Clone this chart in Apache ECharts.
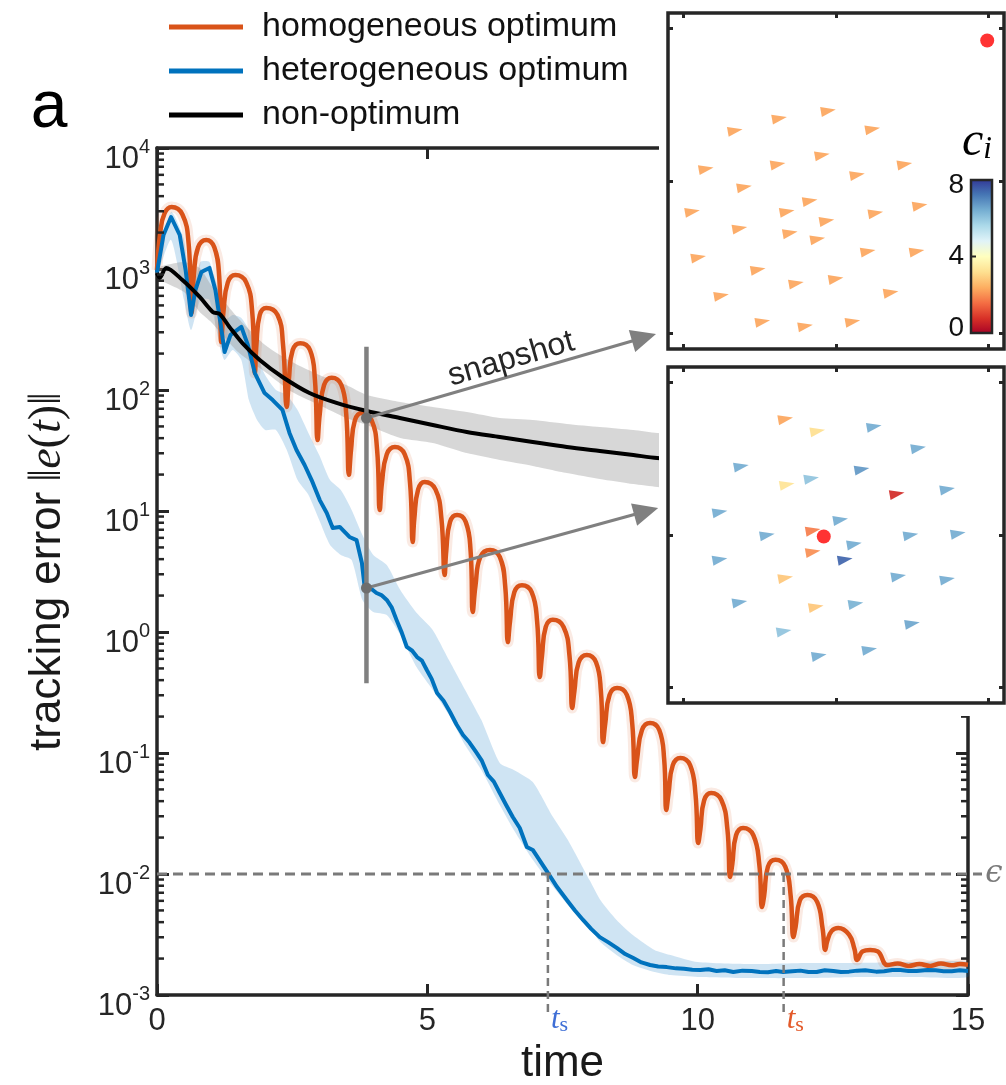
<!DOCTYPE html>
<html><head><meta charset="utf-8">
<script src="https://cdn.jsdelivr.net/npm/echarts@6/dist/echarts.min.js"></script>
<style>html,body{margin:0;padding:0;background:#fff}#c{width:1006px;height:1085px}</style>
</head><body><div id="c"></div><script>
// ---------------- DATA ----------------
const orangeT = [0,0.06,0.14,0.27,0.47,0.585,
 0.64,0.68,0.76,0.91,1.06,1.15, 1.19,1.23,1.31,1.45,1.65,1.76, 1.81,1.84,1.9,2.02,2.23,2.33,
 2.4,2.44,2.51,2.65,2.83,2.92, 2.97,3.01,3.09,3.23,3.41,3.5, 3.55,3.59,3.66,3.79,3.97,4.07,
 4.12,4.16,4.25,4.4,4.58,4.68, 4.73,4.76,4.83,4.95,5.15,5.26, 5.32,5.35,5.42,5.55,5.71,5.8,
 5.84,5.89,5.98,6.16,6.34,6.44, 6.49,6.53,6.61,6.75,6.93,7.03, 7.08,7.12,7.19,7.32,7.52,7.63,
 7.68,7.72,7.8,7.95,8.12,8.21, 8.25,8.29,8.37,8.51,8.69,8.79, 8.84,8.88,8.97,9.12,9.29,9.38,
 9.42,9.46,9.54,9.68,9.86,9.96, 10.01,10.05,10.12,10.25,10.44,10.55, 10.6,10.64,10.71,10.84,11.03,11.14,
 11.19,11.23,11.3,11.44,11.62,11.72, 11.77,11.81,11.89,12.03,12.21,12.31, 12.36,12.4,12.48,12.6,12.8,12.9,
 12.95,13.05,13.19,13.33, 13.51,13.7,13.9,14.1,14.3,14.5,14.7,14.85,15];
const orangeV = [980,2000,2880,3250,2820,1620,
 432,871,1510,1740,1510,871, 249,447,776,891,776,447, 138,240,417,476,417,240,
 72.4,123,214,244,214,123, 38.6,63.1,110,126,110,63.1, 19.9,32.4,56.2,64.6,56.2,32.4,
 10.2,17.0,29.5,33.8,29.5,17.0, 5.55,8.71,15.1,17.4,15.1,8.71, 2.96,4.68,8.13,9.27,8.13,4.68,
 1.46,2.40,4.17,4.76,4.17,2.40, 0.826,1.23,2.14,2.44,2.14,1.23, 0.425,0.631,1.10,1.26,1.10,0.631,
 0.236,0.324,0.562,0.646,0.562,0.324, 0.123,0.174,0.302,0.344,0.302,0.174, 0.0634,0.0891,0.155,0.177,0.155,0.0891,
 0.0338,0.0457,0.0794,0.0910,0.0794,0.0457, 0.0180,0.0234,0.0407,0.0467,0.0407,0.0234, 0.00944,0.0120,0.0209,0.0240,0.0209,0.0120,
 0.00533,0.00661,0.0115,0.0131,0.0115,0.00661, 0.00301,0.00363,0.00603,0.00670,0.00589,0.00355, 0.00236,0.00282,0.00339,0.00358,0.00316,0.00240,
 0.00195,0.00229,0.00236,0.00229, 0.00177,0.00182,0.00174,0.00180,0.00174,0.00182,0.00176,0.00180,0.00178];

const blueT = [0,0.12,0.26,0.42,0.53,0.63,0.71,0.82,0.97,1.08,1.18,1.25,1.36,1.56,1.68,1.81,1.99,2.14,2.32,2.45,
 2.58,2.73,2.86,3.01,3.14,3.25,3.38,3.56,3.69,3.79,3.84,3.95,4.06,4.15,4.25,4.34,4.43,4.53,4.62,4.72,4.81,4.9,4.99,5.08,5.18,5.3,5.42,5.54,5.66,5.78,
 5.9,6.01,6.12,6.23,6.34,6.46,6.58,6.71,6.84,6.95,7.09,7.23,7.4,7.58,7.73,7.88,8.03,8.19,8.35,8.51,8.66,8.81,8.96,9.12,9.27,9.43,9.6,9.75,9.9,10.05,10.2,10.35,10.5,10.66,10.83,11.0,11.15,11.3,
 11.45,11.58,11.75,11.9,12.05,12.2,12.35,12.51,12.65,12.8,12.95,13.1,13.3,13.45,13.6,13.75,13.9,14.05,14.25,14.4,14.55,14.7,14.85,15];
const blueV = [933,1910,2690,1910,977,417,670,944,1020,670,344,206,285,332,236,138,94.4,82.6,68.4,44.2,
 31.9,24.0,18.0,12.3,9.62,7.24,7.38,6.10,5.75,3.72,2.36,2.30,2.10,2.02,1.84,1.60,1.26,0.98,0.752,0.70,0.621,0.58,0.485,0.41,0.313,0.27,0.218,0.172,0.141,0.122,
 0.102,0.086,0.0658,0.058,0.0467,0.037,0.0296,0.024,0.0167,0.0158,0.0127,0.0102,0.0078,0.0061,0.0050,0.00417,0.00352,0.00301,0.00272,0.00244,0.00218,0.00202,0.00186,0.00177,0.00172,0.00170,0.00166,0.00165,0.00162,0.00161,0.00163,0.00158,0.00160,0.00155,0.00159,0.00158,0.00155,0.00154,
 0.00158,0.00155,0.00157,0.00159,0.00155,0.00155,0.00160,0.00158,0.00155,0.00156,0.00159,0.00160,0.00156,0.00157,0.00161,0.00161,0.00158,0.00158,0.00161,0.00160,0.00157,0.00157,0.00160,0.00158];

const blackT = [0,0.05,0.17,0.47,0.79,1.03,1.16,1.34,1.58,1.9,2.32,2.82,3.32,3.88,4.49,5.1,5.73,6.34,6.95,7.58,8.19,8.81,9.25,12,15];
const blackV = [927,843,1020,811,587,442,425,332,244,177,128,94.4,78.2,67.0,58.7,51.4,45.0,40.9,37.2,33.8,31.3,29.0,27.4,21.9,18.2];

const grayBandT = [0,0.5,0.79,1.0,1.5,2.0,2.5,3.0,3.5,3.88,4.5,5.1,5.73,6.34,6.95,7.58,8.19,8.81,9.25,12,15];
const grayBandHi = [1019,1143,1019,738,394,236,170,133,110,91.0,79.6,72.4,65.8,58.7,56.5,52.4,49.4,46.7,44.2,38.6,35.1];
const grayBandLo = [843,646,442,365,206,141,96.2,75.2,58.7,51.4,40.1,36.5,30.1,26.4,23.6,20.6,18.4,16.7,15.8,12.3,10.2];

const blueBandT = [0,0.26,0.5,0.63,0.8,0.97,1.18,1.25,1.4,1.56,1.7,1.85,2.0,2.2,2.4,2.6,2.8,3.0,3.2,3.4,3.6,3.8,4.0,4.25,4.5,
 4.8,5.1,5.4,5.7,6.0,6.34,6.6,6.95,7.3,7.6,8.0,8.2,8.5,8.8,9.2,9.5,10,11,12,13,14,15];
const blueBandHi = [1019,2960,1740,555,1143,1143,555,379,417,394,313,195,133,100,91.0,68.4,44.2,29.0,18.0,14.9,10.2,6.34,4.33,3.58,2.22,
 1.44,1.04,0.587,0.332,0.187,0.0826,0.0724,0.0575,0.0308,0.0191,0.00891,0.0061,0.00417,0.00313,0.00236,0.00214,0.00187,0.0018,0.00184,0.00184,0.00187,0.00187];
const blueBandLo = [891,1740,555,313,555,555,214,177,214,177,82.6,56.5,46.7,46.7,31.9,18.0,13.6,8.43,5.24,4.33,3.94,1.84,1.46,1.38,0.944,
 0.514,0.332,0.206,0.116,0.0724,0.0372,0.0231,0.0131,0.00811,0.00555,0.00358,0.00274,0.00214,0.00177,0.00155,0.00146,0.00141,0.00138,0.00138,0.00141,0.00141,0.00141];

// annotations
const epsilon = 0.01;
const tsTimes = [7.23, 11.59];           // blue, orange settling times
const tsColors = ['#3f6fd6', '#e35a2b'];
const snapT = 3.874;
const snapSpan = [0.377, 228];
const snapDots = [58.7, 2.31];
const arrowTips = [[9.23, 290], [9.27, 10.6]];
const snapLabel = [6.55, 180];

// tick labels
const xTicks = [0, 5, 10, 15];
const yMajor = [1e-3, 1e-2, 1e-1, 1, 10, 100, 1000, 10000];
const insetTicks = [-1, 0, 1];
const cbarTicks = [0, 4, 8];

// inset agents (positions in the inset frame) and their c_i
const topX = [-0.66,-0.37,-0.05,0.24,-0.85,-0.38,-0.09,0.14,0.45,-0.60,-0.17,-0.94,-0.32,-0.06,0.26,0.55,-0.63,-0.30,-0.12,-0.90,0.21,0.53,-0.51,-0.26,0.00,-0.75,0.36,-0.48,-0.20,0.11];
const topY = [0.33,0.41,0.46,0.34,0.08,0.11,0.17,0.04,0.11,-0.04,-0.13,-0.20,-0.20,-0.26,-0.21,-0.16,-0.31,-0.34,-0.38,-0.50,-0.46,-0.46,-0.58,-0.67,-0.64,-0.75,-0.73,-0.92,-0.95,-0.92];
const topC = [2.3,2.3,2.3,2.3,2.3,2.3,2.3,2.3,2.3,2.3,2.3,2.3,2.3,2.3,2.3,2.3,2.3,2.3,2.3,2.3,2.3,2.3,2.3,2.3,2.3,2.3,2.3,2.3,2.3,2.3];
const topTarget = [0.99, 0.92];
const botX = [-0.33,-0.12,0.25,0.54,-0.62,0.17,-0.32,-0.16,0.40,0.73,-0.76,0.03,-0.15,-0.45,0.49,0.80,-0.15,0.12,0.06,-0.76,-0.33,0.41,0.73,-0.63,-0.13,0.13,-0.34,0.50,-0.11,0.22];
const botY = [0.76,0.68,0.71,0.57,0.45,0.43,0.33,0.37,0.27,0.30,0.15,0.10,0.03,0.00,0.00,0.01,-0.11,-0.06,-0.16,-0.16,-0.28,-0.27,-0.29,-0.44,-0.47,-0.45,-0.63,-0.58,-0.79,-0.75];
const botC = [2.3,3.2,6.4,6.4,6.4,6.7,3.3,6.0,0.7,6.4,6.4,6.4,1.8,6.4,6.4,6.4,2.0,6.4,7.4,6.4,2.8,6.4,6.4,6.4,2.8,6.3,6.0,6.5,6.4,6.4];
const botTarget = [-0.08, -0.01];

// ---------------- STYLE ----------------
const FONT = '"Liberation Sans", Arial, Helvetica, sans-serif';
const SERIF = '"Liberation Serif", "DejaVu Serif", serif';
const AX = '#262626';
const ORANGE = '#D95319', BLUE = '#0072BD';
const RDYLBU = ['#a50026','#d73027','#f46d43','#fdae61','#fee090','#ffffbf','#e0f3f8','#abd9e9','#74add1','#4575b4','#313695'];

const zip = (a, b) => a.map((x, i) => [x, b[i]]);
const yMinor = [];
for (let e = -3; e < 4; e++) for (let k = 2; k < 10; k++) yMinor.push(k * Math.pow(10, e));

function bandSeries(T, lo, hi, color) {
  return {
    type: 'custom', xAxisIndex: 0, yAxisIndex: 0, z: 1, silent: true,
    data: T.map((t, i) => [t, lo[i], hi[i]]), encode: { x: 0, y: [1, 2] },
    renderItem(params, api) {
      if (params.dataIndex !== 0) return null;
      const pts = [];
      for (let i = 0; i < T.length; i++) pts.push(api.coord([T[i], hi[i]]));
      for (let i = T.length - 1; i >= 0; i--) pts.push(api.coord([T[i], lo[i]]));
      return { type: 'polygon', shape: { points: pts, smooth: 0.2 }, style: { fill: color } };
    }
  };
}

function renderAnno(params, api) {
  if (params.dataIndex !== 0) return null;
  const c = (x, y) => api.coord([x, y]);
  const G = '#7a7a7a', S = '#808080';
  const ch = [];
  const e0 = c(0, epsilon), e1 = c(15, epsilon);
  ch.push({ type: 'line', shape: { x1: e0[0], y1: e0[1], x2: e1[0] + 14, y2: e1[1] }, style: { stroke: G, lineWidth: 2.8, lineDash: [10, 6] } });
  const bottomY = c(0, 0.001)[1];
  tsTimes.forEach((t, i) => {
    const p = c(t, epsilon);
    ch.push({ type: 'line', shape: { x1: p[0], y1: p[1], x2: p[0], y2: bottomY + 22 }, style: { stroke: G, lineWidth: 2.5, lineDash: [8, 5] } });
    ch.push({ type: 'text', x: p[0] + 3, y: bottomY + 25, style: {
      text: '{t|t}{s|s}', align: 'left', verticalAlign: 'middle',
      rich: { t: { fontSize: 31, fontStyle: 'italic', fontFamily: SERIF, fill: tsColors[i], lineHeight: 32 },
              s: { fontSize: 22, fontFamily: SERIF, fill: tsColors[i], verticalAlign: 'bottom', lineHeight: 18 } } } });
  });
  ch.push({ type: 'text', x: e1[0] + 26, y: e1[1], style: { text: '\u03F5', fontSize: 31, fontFamily: '"DejaVu Serif", serif', fontStyle: 'italic', fill: G, align: 'center', verticalAlign: 'middle' } });
  const s0 = c(snapT, snapSpan[1]), s1 = c(snapT, snapSpan[0]);
  ch.push({ type: 'line', shape: { x1: s0[0], y1: s0[1], x2: s1[0], y2: s1[1] }, style: { stroke: S, lineWidth: 4.5 } });
  snapDots.forEach((v, i) => {
    const a = c(snapT, v), b = c(arrowTips[i][0], arrowTips[i][1]);
    const dx = b[0] - a[0], dy = b[1] - a[1], L = Math.hypot(dx, dy), ux = dx / L, uy = dy / L;
    const hl = 25, hw = 11.5, bx = b[0] - ux * hl, by = b[1] - uy * hl;
    ch.push({ type: 'line', shape: { x1: a[0], y1: a[1], x2: bx + ux * 2, y2: by + uy * 2 }, style: { stroke: S, lineWidth: 3 } });
    ch.push({ type: 'polygon', shape: { points: [[b[0], b[1]], [bx - uy * hw, by + ux * hw], [bx + uy * hw, by - ux * hw]] }, style: { fill: S } });
    ch.push({ type: 'circle', shape: { cx: a[0], cy: a[1], r: 5.5 }, style: { fill: '#6e6e6e' } });
  });
  const a0 = c(snapT, snapDots[0]), b0 = c(arrowTips[0][0], arrowTips[0][1]);
  const ang = Math.atan2(-(b0[1] - a0[1]), b0[0] - a0[0]);
  const lp = c(snapLabel[0], snapLabel[1]);
  ch.push({ type: 'text', x: lp[0], y: lp[1], rotation: ang, style: { text: 'snapshot', fontSize: 32, fontFamily: FONT, fill: AX, align: 'center', verticalAlign: 'middle' } });
  return { type: 'group', children: ch };
}

function insetAxis(gi, pos) {
  return { type: 'value', gridIndex: gi, position: pos, min: -1.1, max: 1.1, z: 11,
    axisLine: { show: false, onZero: false }, splitLine: { show: false }, axisLabel: { show: false },
    axisTick: { show: true, inside: true, length: 5, lineStyle: { color: AX, width: 3 }, customValues: insetTicks } };
}

const mainX = (pos, showLabel) => ({
  type: 'value', gridIndex: 0, position: pos, min: 0, max: 15, interval: 5,
  axisLine: { show: true, onZero: false, lineStyle: { color: AX, width: 3.5 } },
  axisTick: { show: true, inside: true, length: 11, lineStyle: { color: AX, width: 3 } },
  axisLabel: { show: showLabel, fontSize: 31, color: AX, margin: 11, fontFamily: FONT, customValues: xTicks },
  splitLine: { show: false }
});
const mainY = (pos, showLabel) => ({
  type: 'log', logBase: 10, gridIndex: 0, position: pos, min: yMajor[0], max: yMajor[yMajor.length - 1], splitNumber: 7,
  axisLine: { show: true, onZero: false, lineStyle: { color: AX, width: 3.5 } },
  axisTick: { show: true, inside: true, length: 12, lineStyle: { color: AX, width: 3 } },
  axisLabel: { show: showLabel, margin: 7, padding: [16, 0, 0, 0],
    formatter: v => { const e = Math.round(Math.log10(v)); return '{b|10}{s|' + (e < 0 ? '-' : '') + Math.abs(e) + '}'; },
    rich: { b: { fontSize: 31, fontFamily: FONT, color: AX, lineHeight: 38, verticalAlign: 'bottom' },
            s: { fontSize: 20, fontFamily: FONT, color: AX, lineHeight: 20, verticalAlign: 'top' } } },
  splitLine: { show: false }
});

const xA0 = mainX('bottom', true);
xA0.name = 'time'; xA0.nameLocation = 'middle'; xA0.nameGap = 45;
xA0.nameTextStyle = { fontSize: 44, color: '#1a1a1a', fontFamily: FONT };
const yA0 = mainY('left', true);
yA0.name = '{n|tracking error}   {m|\u2016}{i|e}{m|(}{i|t}{m|)\u2016}';
yA0.nameLocation = 'middle'; yA0.nameRotate = 90; yA0.nameGap = 86;
yA0.nameTextStyle = { color: '#1a1a1a', rich: {
  n: { fontSize: 44, fontFamily: FONT, color: '#1a1a1a' },
  m: { fontSize: 46, fontFamily: SERIF, color: '#1a1a1a' },
  i: { fontSize: 46, fontFamily: SERIF, fontStyle: 'italic', color: '#1a1a1a' } } };

const lineS = (name, T, V, color, w, extra) => Object.assign({
  type: 'line', name, xAxisIndex: 0, yAxisIndex: 0, data: zip(T, V), showSymbol: false, symbol: 'none',
  lineStyle: { color, width: w, join: 'round' }, itemStyle: { color }, z: 2, silent: true
}, extra || {});

const option = {
  animation: false,
  backgroundColor: '#fff',
  textStyle: { fontFamily: FONT },
  grid: [
    { left: 157, top: 148, width: 811, height: 847, show: false, containLabel: false, outerBoundsMode: 'none' },
    { left: 668, top: 13, width: 336, height: 336, show: true, backgroundColor: '#fff', borderColor: AX, borderWidth: 3.5, z: 10, outerBoundsMode: 'none' },
    { left: 668, top: 367, width: 336, height: 336, show: true, backgroundColor: '#fff', borderColor: AX, borderWidth: 3.5, z: 10, outerBoundsMode: 'none' }
  ],
  xAxis: [xA0, mainX('top', false), insetAxis(1, 'bottom'), insetAxis(1, 'top'), insetAxis(2, 'bottom'), insetAxis(2, 'top')],
  yAxis: [yA0, mainY('right', false), insetAxis(1, 'left'), insetAxis(1, 'right'), insetAxis(2, 'left'), insetAxis(2, 'right')],
  legend: {
    orient: 'vertical', left: 164, top: 5, itemWidth: 74, itemHeight: 5, itemGap: 10, icon: 'rect', selectedMode: false,
    textStyle: { fontSize: 34, fontFamily: FONT, color: '#111', padding: [0, 0, 0, 14] },
    data: ['homogeneous optimum', 'heterogeneous optimum', 'non-optimum']
  },
  visualMap: { type: 'continuous', show: false, min: 0, max: 8, dimension: 2, seriesIndex: [8, 10], inRange: { color: RDYLBU } },
  series: [
    bandSeries(blueBandT, blueBandLo, blueBandHi, 'rgba(0,114,189,0.19)'),
    bandSeries(grayBandT, grayBandLo, grayBandHi, 'rgba(150,150,150,0.38)'),
    lineS('orangeHalo', orangeT, orangeV, 'rgba(217,83,25,0.12)', 11, { smooth: 0.45 }),
    lineS('homogeneous optimum', orangeT, orangeV, ORANGE, 4.5, { smooth: 0.45 }),
    lineS('heterogeneous optimum', blueT, blueV, BLUE, 4),
    lineS('non-optimum', blackT, blackV, '#000000', 4, { smooth: 0.3 }),
    { type: 'custom', xAxisIndex: 0, yAxisIndex: 0, z: 3, silent: true, clip: false,
      data: yMinor.map(v => [0, v]), encode: { x: 0, y: 1 },
      renderItem(params, api) {
        const v = api.value(1), l = api.coord([0, v]), r = api.coord([15, v]);
        return { type: 'group', children: [
          { type: 'line', shape: { x1: l[0], y1: l[1], x2: l[0] + 7, y2: l[1] }, style: { stroke: AX, lineWidth: 2.5 } },
          { type: 'line', shape: { x1: r[0] - 7, y1: r[1], x2: r[0], y2: r[1] }, style: { stroke: AX, lineWidth: 2.5 } } ] };
      } },
    { type: 'custom', xAxisIndex: 0, yAxisIndex: 0, z: 4, silent: true, clip: false,
      data: [[snapT, snapDots[0]]], encode: { x: 0, y: 1 }, renderItem: renderAnno },
    { type: 'scatter', xAxisIndex: 2, yAxisIndex: 2, z: 12, silent: true, symbol: 'triangle', symbolSize: [10, 15], symbolRotate: -80,
      itemStyle: { opacity: 0.92 }, data: topX.map((x, i) => [x, topY[i], topC[i]]) },
    { type: 'scatter', xAxisIndex: 2, yAxisIndex: 2, z: 13, silent: true, symbol: 'circle', symbolSize: 14,
      itemStyle: { color: '#ff0000' }, data: [topTarget] },
    { type: 'scatter', xAxisIndex: 4, yAxisIndex: 4, z: 12, silent: true, symbol: 'triangle', symbolSize: [10, 15], symbolRotate: -80,
      itemStyle: { opacity: 0.92 }, data: botX.map((x, i) => [x, botY[i], botC[i]]) },
    { type: 'scatter', xAxisIndex: 4, yAxisIndex: 4, z: 13, silent: true, symbol: 'circle', symbolSize: 14,
      itemStyle: { color: '#ff0000' }, data: [botTarget] }
  ],
  graphic: [
    { type: 'rect', z: 5, shape: { x: 659, y: 0, width: 347, height: 716 }, style: { fill: '#fff' }, silent: true },
    { type: 'text', z: 6, x: 49, y: 109, style: { text: 'a', fontSize: 66, fontFamily: FONT, fill: '#000', align: 'center', verticalAlign: 'middle' } },
    { type: 'rect', z: 20, shape: { x: 971, y: 180, width: 21, height: 153 },
      style: { fill: new echarts.graphic.LinearGradient(0, 1, 0, 0, RDYLBU.map((c, i) => ({ offset: i / 10, color: c }))), stroke: AX, lineWidth: 2.5 } },
    { type: 'line', z: 21, shape: { x1: 971, y1: 256.5, x2: 976, y2: 256.5 }, style: { stroke: AX, lineWidth: 2 } },
    ...cbarTicks.map(v => ({ type: 'text', z: 21, x: 964, y: 328 - v / 8 * 143, style: { text: String(v), fontSize: 28, fontFamily: FONT, fill: '#111', align: 'right', verticalAlign: 'middle' } })),
    { type: 'text', z: 21, x: 977, y: 142, style: { text: '{c|c}{i|i}', align: 'center', verticalAlign: 'middle',
      rich: { c: { fontSize: 48, fontFamily: SERIF, fontStyle: 'italic', fill: '#000', lineHeight: 46 },
              i: { fontSize: 31, fontFamily: SERIF, fontStyle: 'italic', fill: '#000', verticalAlign: 'bottom', lineHeight: 32 } } } }
  ]
};

const chart = echarts.init(document.getElementById('c'), null, { renderer: 'canvas', width: 1006, height: 1085 });
chart.setOption(option);
</script></body></html>
